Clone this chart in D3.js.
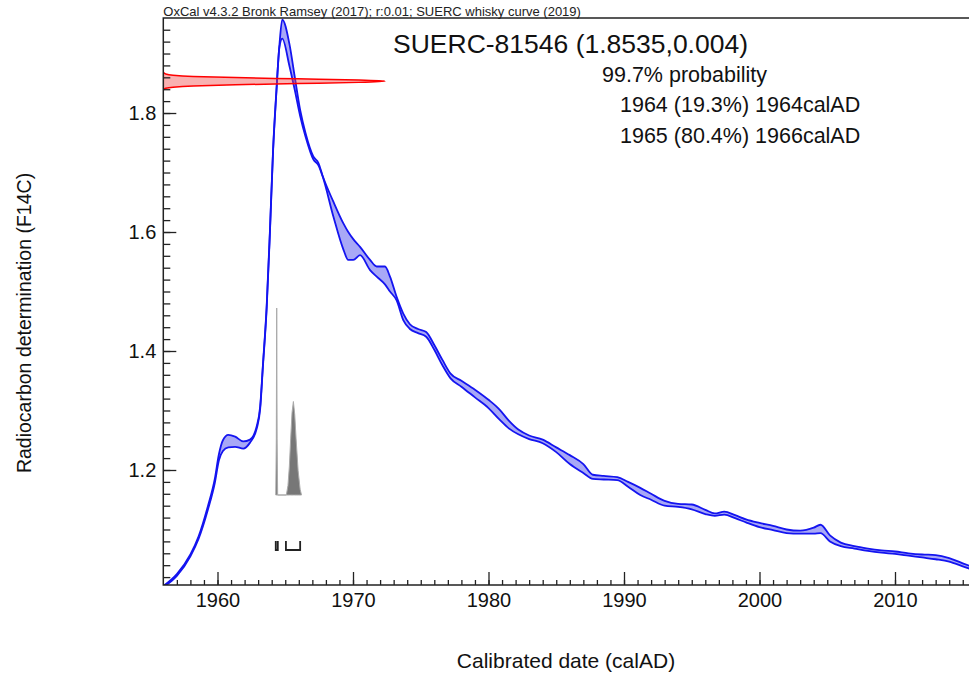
<!DOCTYPE html>
<html>
<head>
<meta charset="utf-8">
<script src="https://cdn.jsdelivr.net/npm/d3@7"></script>
<style>
  body { margin: 0; background: #fff; }
  svg { display: block; font-family: "Liberation Sans", Arial, sans-serif; }
</style>
</head>
<body>
<div id="chart"></div>
<script>
// calibration curve (SUERC whisky curve)
const curveYears = [1956.0, 1957.0, 1958.0, 1958.6, 1959.3, 1959.8, 1960.1, 1960.4, 1960.8, 1961.3,
  1961.9, 1962.4, 1962.9, 1963.15, 1963.35, 1963.63, 1963.87, 1964.1, 1964.35, 1964.57,
  1964.78, 1965.3, 1965.7, 1966.1, 1966.5, 1967.07, 1967.45, 1967.75, 1968.55, 1969.3,
  1969.65, 1970.02, 1970.52, 1971.26, 1971.75, 1972.36, 1972.73, 1973.22, 1973.71, 1974.2,
  1974.8, 1975.4, 1976.0, 1976.6, 1977.2, 1978.0, 1979.0, 1980.0, 1980.8, 1981.5,
  1982.2, 1983.0, 1984.0, 1985.0, 1986.0, 1987.0, 1987.7, 1988.5, 1989.5, 1990.3,
  1991.2, 1992.0, 1993.0, 1994.0, 1995.0, 1996.0, 1996.7, 1997.4, 1998.2, 1999.0,
  2000.0, 2001.0, 2002.0, 2003.0, 2004.0, 2004.5, 2005.2, 2006.0, 2007.0, 2008.0,
  2009.0, 2010.0, 2011.0, 2012.0, 2013.0, 2014.0, 2015.0, 2016.0]

const curveUpper = [1.005, 1.025, 1.058, 1.088, 1.140, 1.185, 1.226, 1.250, 1.259, 1.256,
  1.248, 1.251, 1.274, 1.307, 1.376, 1.476, 1.603, 1.738, 1.839, 1.914,
  1.957, 1.917, 1.861, 1.805, 1.766, 1.727, 1.716, 1.695, 1.651, 1.614,
  1.600, 1.588, 1.575, 1.553, 1.542, 1.542, 1.525, 1.491, 1.463, 1.445,
  1.437, 1.432, 1.410, 1.385, 1.362, 1.350, 1.335, 1.318, 1.302, 1.283,
  1.268, 1.258, 1.251, 1.238, 1.225, 1.210, 1.192, 1.190, 1.188, 1.180,
  1.170, 1.160, 1.148, 1.143, 1.142, 1.133, 1.127, 1.130, 1.124, 1.117,
  1.111, 1.106, 1.100, 1.098, 1.103, 1.108, 1.090, 1.078, 1.072, 1.068,
  1.065, 1.063, 1.060, 1.058, 1.057, 1.052, 1.043, 1.035]

const curveLower = [1.003, 1.022, 1.055, 1.084, 1.134, 1.178, 1.216, 1.232, 1.238, 1.239,
  1.236, 1.246, 1.270, 1.303, 1.373, 1.472, 1.599, 1.735, 1.836, 1.911,
  1.925, 1.880, 1.839, 1.795, 1.760, 1.722, 1.712, 1.694, 1.626, 1.570,
  1.553, 1.553, 1.561, 1.536, 1.525, 1.512, 1.500, 1.485, 1.452, 1.437,
  1.430, 1.424, 1.402, 1.376, 1.354, 1.340, 1.322, 1.304, 1.285, 1.270,
  1.260, 1.252, 1.245, 1.230, 1.210, 1.195, 1.185, 1.184, 1.183, 1.172,
  1.158, 1.150, 1.140, 1.138, 1.134, 1.126, 1.123, 1.125, 1.119, 1.112,
  1.104, 1.099, 1.094, 1.093, 1.093, 1.094, 1.080, 1.072, 1.068, 1.064,
  1.061, 1.059, 1.056, 1.053, 1.050, 1.046, 1.038, 1.030]

// measurement SUERC-81546 (1.8535, 0.004), relative density along F14C
const measF14C = [1.8395, 1.8415, 1.8435, 1.8455, 1.8475, 1.8495, 1.8515, 1.8535,
  1.8555, 1.8575, 1.8595, 1.8615, 1.8635, 1.8655, 1.8675]
const measDensity = [0.002, 0.011, 0.044, 0.135, 0.325, 0.607, 0.882, 1.0,
  0.882, 0.607, 0.325, 0.135, 0.044, 0.011, 0.002]

// calibrated date probability
const probYears = [1964.30, 1964.34, 1964.37, 1964.40, 1964.44, 1965.08, 1965.2, 1965.3, 1965.4,
  1965.5, 1965.6, 1965.7, 1965.8, 1965.95, 1966.1, 1966.2]
const probValues = [0, 0.3, 1.0, 0.3, 0, 0, 0.05, 0.15, 0.3, 0.44, 0.5, 0.43, 0.3, 0.13, 0.03, 0]

// 99.7% ranges
const rangeStart = [1964.30, 1965.05]
const rangeEnd = [1964.45, 1966.1]

const header = 'OxCal v4.3.2 Bronk Ramsey (2017); r:0.01; SUERC whisky curve (2019)'
const title = 'SUERC-81546 (1.8535,0.004)'
const rangeLines = ['99.7% probability', '1964 (19.3%) 1964calAD', '1965 (80.4%) 1966calAD']

const xMajor = [1960, 1970, 1980, 1990, 2000, 2010]
const yMajor = [1.2, 1.4, 1.6, 1.8]

const width = 969, height = 678
const plot = {left: 163.3, top: 18, bottom: 585}

const svg = d3.select('#chart').append('svg')
    .attr('width', width)
    .attr('height', height)

const x = d3.scaleLinear().domain([1956, 2020]).range([plot.left, plot.left + 64 * 13.55])
const y = d3.scaleLinear().domain([1.0067, 1.9597]).range([plot.bottom, plot.top])

svg.append('clipPath').attr('id', 'clip')
  .append('rect')
    .attr('x', plot.left).attr('y', plot.top)
    .attr('width', width - plot.left).attr('height', plot.bottom - plot.top)

const g = svg.append('g').attr('clip-path', 'url(#clip)')

// calibration curve band
const band = curveYears.map((yr, i) => ({yr: yr, hi: curveUpper[i], lo: curveLower[i]}))

g.append('path')
    .datum(band)
    .attr('fill', 'rgb(168,168,246)')
    .attr('d', d3.area().curve(d3.curveMonotoneX)
      .x(d => x(d.yr)).y0(d => y(d.lo)).y1(d => y(d.hi)))

const edge = d3.line().curve(d3.curveMonotoneX).x(d => x(d.yr))
g.append('path').datum(band)
    .attr('fill', 'none').attr('stroke', '#1414f0').attr('stroke-width', 1.8)
    .attr('d', edge.y(d => y(d.hi)))
g.append('path').datum(band)
    .attr('fill', 'none').attr('stroke', '#1414f0').attr('stroke-width', 1.8)
    .attr('d', edge.y(d => y(d.lo)))

// measurement distribution on the F14C axis
const dens = d3.scaleLinear().domain([0, 1]).range([plot.left, 385])
const meas = measF14C.map((f, i) => ({f: f, p: measDensity[i]}))
g.append('path')
    .datum(meas)
    .attr('fill', 'rgba(240,60,60,0.4)')
    .attr('stroke', '#ff0000')
    .attr('stroke-width', 1.5)
    .attr('d', d3.area().curve(d3.curveMonotoneY)
      .y(d => y(d.f)).x0(dens(0)).x1(d => dens(d.p)))

// calibrated distribution
const prob = d3.scaleLinear().domain([0, 1]).range([495, 308])
const pd = probYears.map((yr, i) => ({yr: yr, p: probValues[i]}))
g.append('path')
    .datum(pd)
    .attr('fill', '#777')
    .attr('stroke', '#aaa')
    .attr('stroke-width', 1)
    .attr('d', d3.area().x(d => x(d.yr)).y0(prob(0)).y1(d => prob(d.p)))

// range brackets
rangeStart.forEach((s, i) => {
  const x0 = x(s), x1 = x(rangeEnd[i])
  g.append('path')
      .attr('fill', 'none')
      .attr('stroke', '#222')
      .attr('stroke-width', 1.8)
      .attr('d', `M${x0},541V550H${x1}V541`)
})

// axes
const tickStyle = sel => {
  sel.select('.domain').remove()
  sel.selectAll('.tick line').attr('stroke', '#222').attr('stroke-width', 1.3)
  sel.selectAll('.tick text').attr('fill', '#111').attr('font-size', 20)
    .attr('font-family', '"Liberation Sans", Arial, sans-serif')
}
const noText = sel => sel.selectAll('.tick text').remove()

svg.append('g')
    .attr('transform', `translate(0,${plot.bottom})`)
    .call(d3.axisBottom(x).tickValues(d3.range(1957, 2016)).tickSize(-5))
    .call(tickStyle).call(noText)
svg.append('g')
    .attr('transform', `translate(0,${plot.bottom})`)
    .call(d3.axisBottom(x).tickValues(xMajor).tickSize(-13).tickPadding(8).tickFormat(d3.format('d')))
    .call(tickStyle)

svg.append('g')
    .attr('transform', `translate(${plot.left},0)`)
    .call(d3.axisLeft(y).tickValues(d3.range(1.02, 1.96, 0.02)).tickSize(-7))
    .call(tickStyle).call(noText)
svg.append('g')
    .attr('transform', `translate(${plot.left},0)`)
    .call(d3.axisLeft(y).tickValues(yMajor).tickSize(-13).tickPadding(7).tickFormat(d3.format('.1f')))
    .call(tickStyle)

// frame
svg.append('path')
    .attr('fill', 'none')
    .attr('stroke', '#222')
    .attr('stroke-width', 1.5)
    .attr('d', `M${width + 2},${plot.top}H${plot.left}V${plot.bottom}H${width + 2}`)

// texts
svg.append('text')
    .attr('x', plot.left).attr('y', 15.5)
    .attr('font-size', 13).attr('fill', '#222')
    .text(header)

svg.append('text')
    .attr('x', 393).attr('y', 53)
    .attr('font-size', 26.5).attr('fill', '#111')
    .text(title)

const linePos = [[602, 81.5], [620, 111.5], [620, 142.5]]
rangeLines.forEach((t, i) => {
  svg.append('text')
      .attr('x', linePos[i][0]).attr('y', linePos[i][1])
      .attr('font-size', 21.5).attr('fill', '#111')
      .text(t)
})

svg.append('text')
    .attr('x', 566).attr('y', 668)
    .attr('text-anchor', 'middle')
    .attr('font-size', 21).attr('fill', '#111')
    .text('Calibrated date (calAD)')

svg.append('text')
    .attr('transform', 'translate(31,323) rotate(-90)')
    .attr('text-anchor', 'middle')
    .attr('font-size', 19.5).attr('fill', '#111')
    .text('Radiocarbon determination (F14C)')
</script>
</body>
</html>
